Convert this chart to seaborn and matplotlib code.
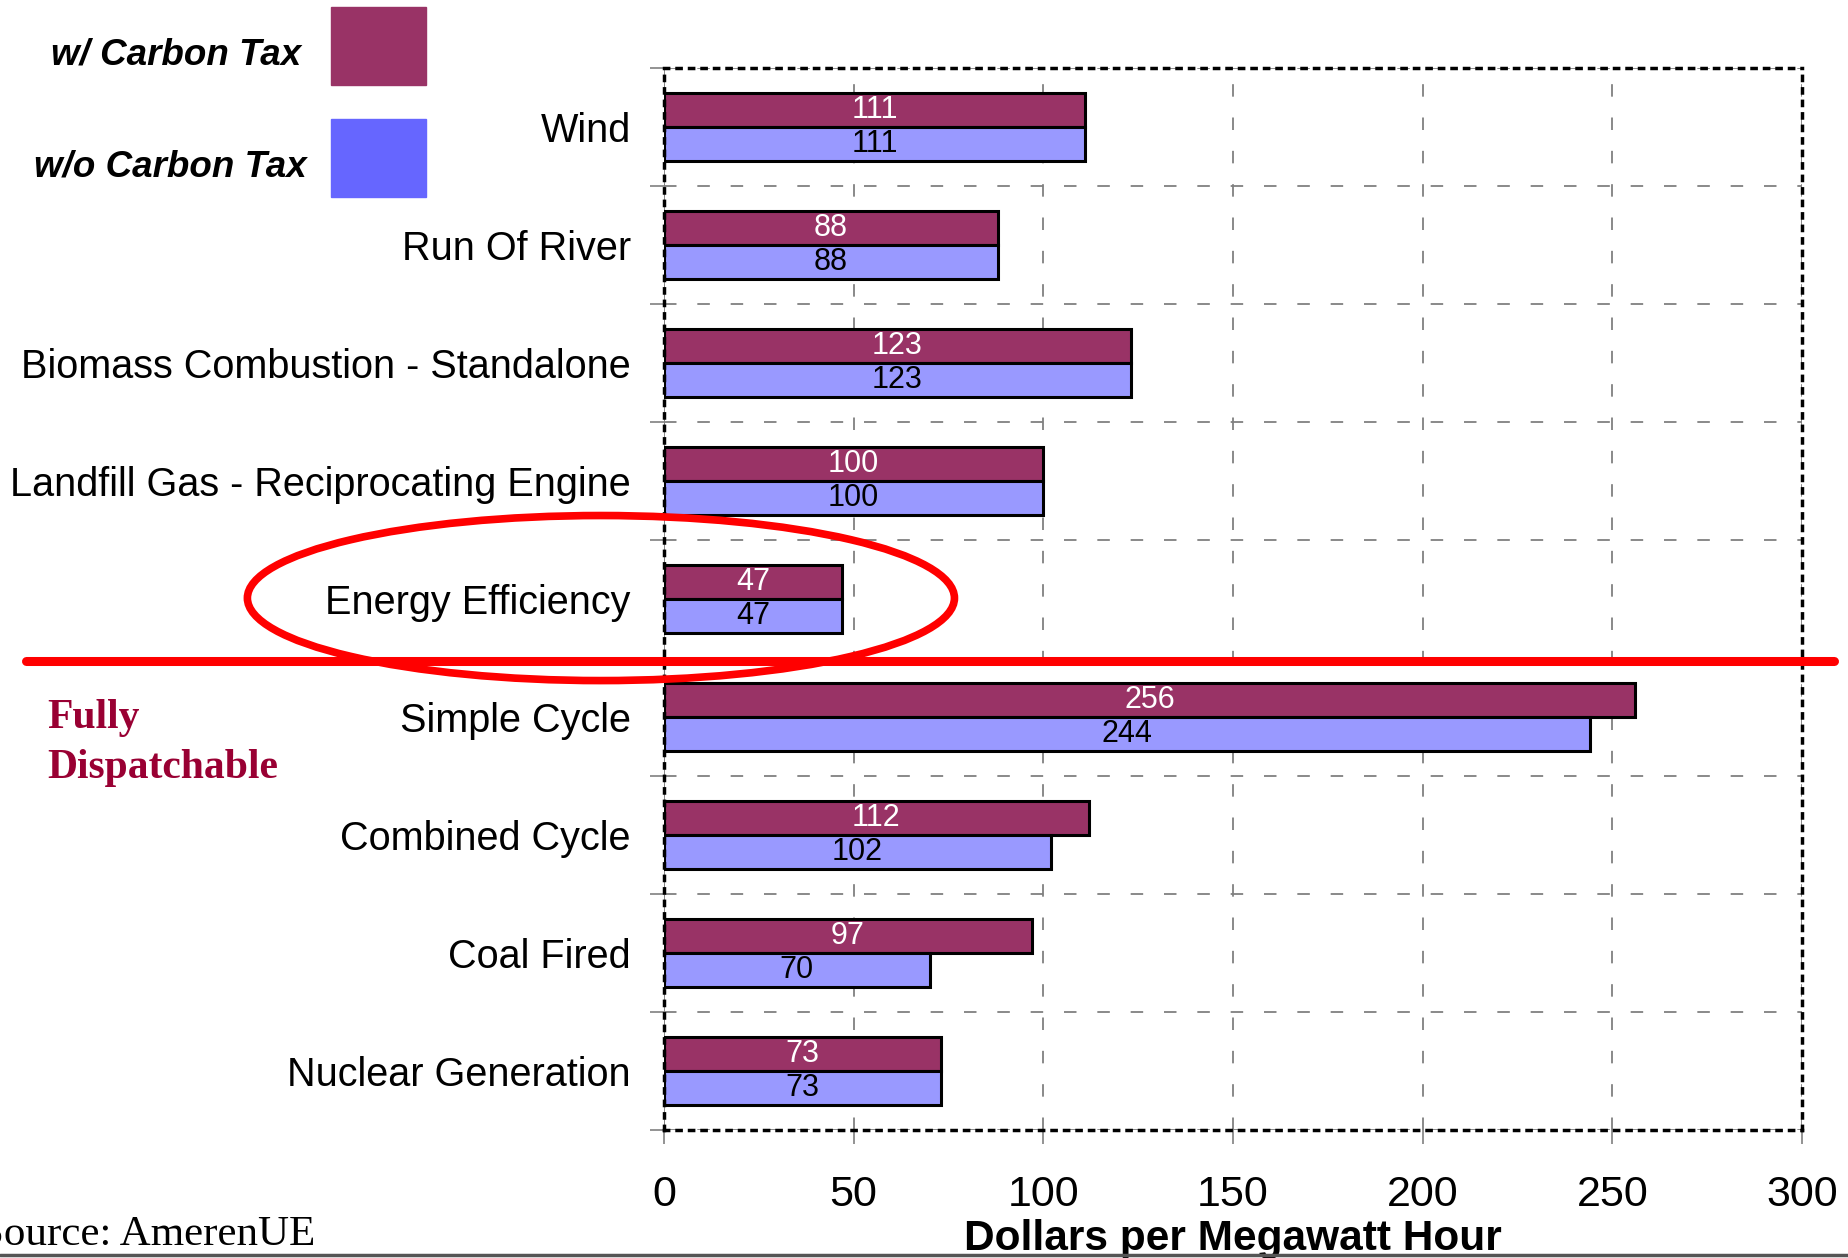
import pandas as pd
import numpy as np
import matplotlib.pyplot as plt
import seaborn as sns
from matplotlib.patches import Rectangle, Ellipse
from matplotlib.lines import Line2D

sources = ['Wind', 'Run Of River', 'Biomass Combustion - Standalone',
           'Landfill Gas - Reciprocating Engine', 'Energy Efficiency',
           'Simple Cycle', 'Combined Cycle', 'Coal Fired', 'Nuclear Generation']
with_tax = [111, 88, 123, 100, 47, 256, 112, 97, 73]
without_tax = [111, 88, 123, 100, 47, 244, 102, 70, 73]
series = ['w/ Carbon Tax', 'w/o Carbon Tax']
x_ticks = [0, 50, 100, 150, 200, 250, 300]

df = pd.DataFrame({'Source': sources * 2,
                   'Cost': with_tax + without_tax,
                   'Case': [series[0]] * len(sources) + [series[1]] * len(sources)})

sns.set_style('white')
plt.rcParams['font.family'] = ['Liberation Sans', 'DejaVu Sans']
plt.rcParams['lines.scale_dashes'] = False
for key in ['text.color', 'axes.labelcolor', 'xtick.color', 'ytick.color']:
    plt.rcParams[key] = 'black'

fig = plt.figure(figsize=(18.49, 12.58), dpi=100)
ax = fig.add_axes([0.3591, 0.1017, 0.6155, 0.8443])

sns.barplot(data=df, x='Cost', y='Source', hue='Case', order=sources,
            hue_order=series, palette=['#993366', '#9999FF'], saturation=1,
            width=0.58, edgecolor='black', linewidth=2.2, errorbar=None,
            orient='h', legend=False, ax=ax)

for cont, col in zip(ax.containers, ['white', 'black']):
    ax.bar_label(cont, label_type='center', color=col, fontsize=22)

ax.set_xlim(0, 300)
ax.set_ylim(len(sources) - 0.5, -0.5)
ax.set_xticks(x_ticks)
ax.set_yticks(np.arange(len(sources)))
ax.set_yticks(np.arange(len(sources) + 1) - 0.5, minor=True)
ax.tick_params(axis='y', which='major', length=0, pad=24, labelsize=28.5)
ax.tick_params(axis='y', which='minor', left=True, length=10, width=1.2,
               color='#808080', direction='out')
ax.tick_params(axis='x', bottom=True, length=10, width=1.2, color='#808080',
               direction='out', pad=22, labelsize=31)
ax.set_ylabel('')
ax.set_xlabel('Dollars per Megawatt Hour', fontsize=30.5, fontweight='bold',
              labelpad=3)

ax.grid(False)
grid_style = dict(color='#808080', linestyle=(0, (9, 15)), linewidth=1.3)
ax.xaxis.grid(True, which='major', **grid_style)
ax.yaxis.grid(True, which='minor', **grid_style)
ax.axvline(0, color='#808080', linewidth=1.3, zorder=0.6)
for sp in ax.spines.values():
    sp.set_visible(True)
    sp.set_color('black')
    sp.set_linewidth(2.5)
    sp.set_linestyle((0, (3, 6)))

# legend drawn by hand
fig.add_artist(Rectangle((0.179, 0.9324), 0.0514, 0.062, color='#993366',
                         transform=fig.transFigure))
fig.add_artist(Rectangle((0.179, 0.8434), 0.0514, 0.062, color='#6666FF',
                         transform=fig.transFigure))
fig.text(0.1628, 0.9563, series[0], ha='right', va='center', fontsize=26.5,
         fontweight='bold', fontstyle='italic')
fig.text(0.166, 0.8672, series[1], ha='right', va='center', fontsize=26.5,
         fontweight='bold', fontstyle='italic')

# annotations
fig.add_artist(Line2D([0.014, 0.992], [0.4746, 0.4746], color='red',
                      linewidth=6.5, transform=fig.transFigure))
fig.add_artist(Ellipse((0.325, 0.5246), 0.3824, 0.1312, fill=False,
                       edgecolor='red', linewidth=5.5, transform=fig.transFigure))
fig.text(0.0254, 0.4296, 'Fully', ha='left', va='center', fontsize=30,
         fontweight='bold', color='#990033', family='Liberation Serif')
fig.text(0.0254, 0.3895, 'Dispatchable', ha='left', va='center', fontsize=30,
         fontweight='bold', color='#990033', family='Liberation Serif')
fig.text(0.1705, 0.0185, 'Source: AmerenUE', ha='right', va='center',
         fontsize=31, family='Liberation Serif')
fig.add_artist(Line2D([0, 1], [0.002, 0.002], color='#555555', linewidth=2.5,
                      transform=fig.transFigure))

fig.savefig('out.png', dpi=100)
